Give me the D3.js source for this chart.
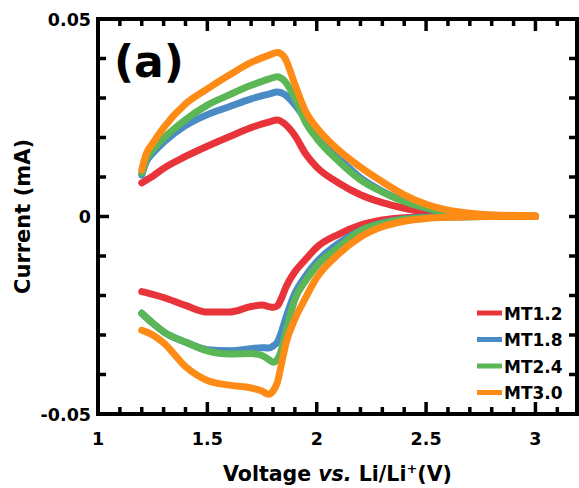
<!DOCTYPE html>
<html>
<head>
<meta charset="utf-8">
<script src="https://cdn.jsdelivr.net/npm/d3@7"></script>
<style>
  body { margin: 0; background: #fff; }
  svg text { font-family: "DejaVu Sans", Verdana, sans-serif; font-weight: bold; fill: #000; }
</style>
</head>
<body>
<svg id="chart" width="579" height="488"></svg>
<script>
// series
const seriesNames = ['MT1.2', 'MT1.8', 'MT2.4', 'MT3.0'];
const seriesColors = ['#e8333a', '#4a8bc6', '#5bb656', '#ff8b17'];

// anodic sweep (upper branch), voltage in V, current in mA
const anodicV = [1.2, 1.22, 1.25, 1.3, 1.4, 1.5, 1.6, 1.7, 1.78, 1.82, 1.85, 1.9, 1.95, 2.0, 2.1, 2.2, 2.3, 2.4, 2.5, 2.6, 2.7, 2.8, 3.0];
const anodicMT12 = [0.0085, 0.0092, 0.0102, 0.0122, 0.0152, 0.0178, 0.0202, 0.0225, 0.0239, 0.0244, 0.0236, 0.0205, 0.0158, 0.0125, 0.0085, 0.0055, 0.0035, 0.0021, 0.0011, 0.0005, 0.0002, 0.0001, 0.0];
const anodicMT18 = [0.0105, 0.0138, 0.016, 0.0188, 0.023, 0.0258, 0.0278, 0.0298, 0.031, 0.0315, 0.031, 0.0283, 0.0245, 0.0205, 0.0148, 0.0098, 0.0064, 0.0039, 0.0021, 0.001, 0.0005, 0.0002, 0.0001];
const anodicMT24 = [0.011, 0.0145, 0.0168, 0.0198, 0.0245, 0.0282, 0.0308, 0.0332, 0.0348, 0.0354, 0.0345, 0.030, 0.0238, 0.0198, 0.014, 0.0093, 0.0062, 0.0038, 0.0022, 0.0011, 0.0005, 0.0003, 0.0001];
const anodicMT30 = [0.0118, 0.0158, 0.0185, 0.0225, 0.0285, 0.0323, 0.0358, 0.039, 0.0408, 0.0415, 0.0405, 0.0335, 0.0265, 0.0225, 0.0168, 0.0125, 0.0088, 0.0055, 0.0031, 0.0016, 0.0008, 0.0004, 0.0002];

// cathodic sweep (lower branch)
const cathodicV = [1.2, 1.25, 1.3, 1.4, 1.5, 1.6, 1.7, 1.75, 1.78, 1.8, 1.82, 1.84, 1.86, 1.9, 1.95, 2.0, 2.1, 2.2, 2.3, 2.4, 2.5, 2.6, 2.8, 3.0];
const cathodicMT12 = [-0.019, -0.0197, -0.0205, -0.0225, -0.0242, -0.0242, -0.0228, -0.0224, -0.0228, -0.023, -0.0226, -0.0205, -0.0178, -0.014, -0.0108, -0.0078, -0.0045, -0.0022, -0.0009, -0.0003, -0.0001, 0, 0, 0];
const cathodicMT18 = [-0.0245, -0.027, -0.0292, -0.0318, -0.0337, -0.034, -0.0335, -0.0332, -0.0333, -0.0328, -0.0318, -0.029, -0.0255, -0.0195, -0.015, -0.0115, -0.0068, -0.0035, -0.0016, -0.0006, -0.0002, -0.0001, 0, 0];
const cathodicMT24 = [-0.0245, -0.027, -0.0292, -0.0318, -0.034, -0.0348, -0.0347, -0.0352, -0.0362, -0.0369, -0.0362, -0.0335, -0.029, -0.021, -0.0162, -0.0125, -0.0078, -0.0036, -0.0018, -0.0007, -0.0003, -0.0001, 0, 0];
const cathodicMT30 = [-0.0288, -0.030, -0.032, -0.038, -0.0415, -0.0427, -0.0434, -0.0442, -0.045, -0.0442, -0.042, -0.037, -0.032, -0.026, -0.0205, -0.0155, -0.0095, -0.0052, -0.0026, -0.0012, -0.0005, -0.0002, 0, 0];

// ticks
const xMajorTicks = [1, 1.5, 2, 2.5, 3];
const xTickLabels = ['1', '1.5', '2', '2.5', '3'];
const yMajorTicks = [-0.05, 0, 0.05];
const yTickLabels = ['-0.05', '0', '0.05'];

const anodic = [anodicMT12, anodicMT18, anodicMT24, anodicMT30];
const cathodic = [cathodicMT12, cathodicMT18, cathodicMT24, cathodicMT30];

const svg = d3.select('#chart');
const x = d3.scaleLinear().domain([1, 3.19]).range([98, 577]);
const y = d3.scaleLinear().domain([-0.05, 0.05]).range([414, 19]);
const [x0, x1] = x.range();
const [y0, y1] = y.range();

const minorX = d3.range(10, 32).map(d => d / 10);
const minorY = d3.range(-5, 6).map(d => d / 100);

// curves
const line = d3.line()
    .x(d => x(d[0]))
    .y(d => y(d[1]))
    .curve(d3.curveMonotoneX);

const curves = svg.append('g').attr('class', 'curves');
seriesNames.forEach((name, i) => {
    [[anodicV, anodic[i]], [cathodicV, cathodic[i]]].forEach(([vs, cs]) => {
        curves.append('path')
            .datum(vs.map((v, j) => [v, cs[j]]))
            .attr('d', line)
            .attr('fill', 'none')
            .attr('stroke', seriesColors[i])
            .attr('stroke-width', 7)
            .attr('stroke-linecap', 'round')
            .attr('stroke-linejoin', 'round');
    });
});

// inward ticks on all four sides
const ticks = svg.append('g').attr('stroke', '#000').attr('stroke-width', 3.5);
const isMajorX = v => xMajorTicks.some(m => Math.abs(m - v) < 1e-6);
const isMajorY = v => yMajorTicks.some(m => Math.abs(m - v) < 1e-6);

ticks.selectAll('line.xb').data(minorX).join('line').attr('class', 'xb')
    .attr('x1', d => x(d)).attr('x2', d => x(d))
    .attr('y1', y0).attr('y2', d => y0 - (isMajorX(d) ? 12 : 7));
ticks.selectAll('line.xt').data(minorX).join('line').attr('class', 'xt')
    .attr('x1', d => x(d)).attr('x2', d => x(d))
    .attr('y1', y1).attr('y2', d => y1 + (isMajorX(d) ? 12 : 7));
ticks.selectAll('line.yl').data(minorY).join('line').attr('class', 'yl')
    .attr('y1', d => y(d)).attr('y2', d => y(d))
    .attr('x1', x0).attr('x2', d => x0 + (isMajorY(d) ? 11 : 8));
ticks.selectAll('line.yr').data(minorY).join('line').attr('class', 'yr')
    .attr('y1', d => y(d)).attr('y2', d => y(d))
    .attr('x1', x1).attr('x2', d => x1 - 8);

// tick labels
svg.append('g').selectAll('text').data(xMajorTicks).join('text')
    .attr('x', d => x(d)).attr('y', y0 + 31)
    .attr('text-anchor', 'middle')
    .style('font-size', '17.5px')
    .text((d, i) => xTickLabels[i]);
svg.append('g').selectAll('text').data(yMajorTicks).join('text')
    .attr('x', x0 - 7).attr('y', d => y(d) + 6.5)
    .attr('text-anchor', 'end')
    .style('font-size', '17.5px')
    .text((d, i) => yTickLabels[i]);

// frame
svg.append('rect')
    .attr('x', x0).attr('y', y1)
    .attr('width', x1 - x0).attr('height', y0 - y1)
    .attr('fill', 'none').attr('stroke', '#000').attr('stroke-width', 4);

// axis titles
const xt = svg.append('text')
    .attr('x', (x0 + x1) / 2).attr('y', 481)
    .attr('text-anchor', 'middle')
    .style('font-size', '20.5px');
xt.append('tspan').text('Voltage ');
xt.append('tspan').style('font-style', 'italic').text('vs.');
xt.append('tspan').text(' Li/Li');
xt.append('tspan').attr('dy', -8).style('font-size', '13px').text('+');
xt.append('tspan').attr('dy', 8).text('(V)');

svg.append('text')
    .attr('transform', `translate(30,${(y0 + y1) / 2}) rotate(-90)`)
    .attr('text-anchor', 'middle')
    .style('font-size', '21px')
    .text('Current (mA)');

// panel label
svg.append('text')
    .attr('x', 114).attr('y', 77)
    .style('font-size', '44px')
    .text('(a)');

// legend
const legend = svg.append('g').attr('class', 'legend');
seriesNames.forEach((name, i) => {
    const ly = 313 + i * 26.5;
    legend.append('line')
        .attr('x1', 477).attr('x2', 502)
        .attr('y1', ly).attr('y2', ly)
        .attr('stroke', seriesColors[i])
        .attr('stroke-width', 5);
    legend.append('text')
        .attr('x', 504).attr('y', ly + 6.5)
        .style('font-size', '17px')
        .text(name);
});
</script>
</body>
</html>
